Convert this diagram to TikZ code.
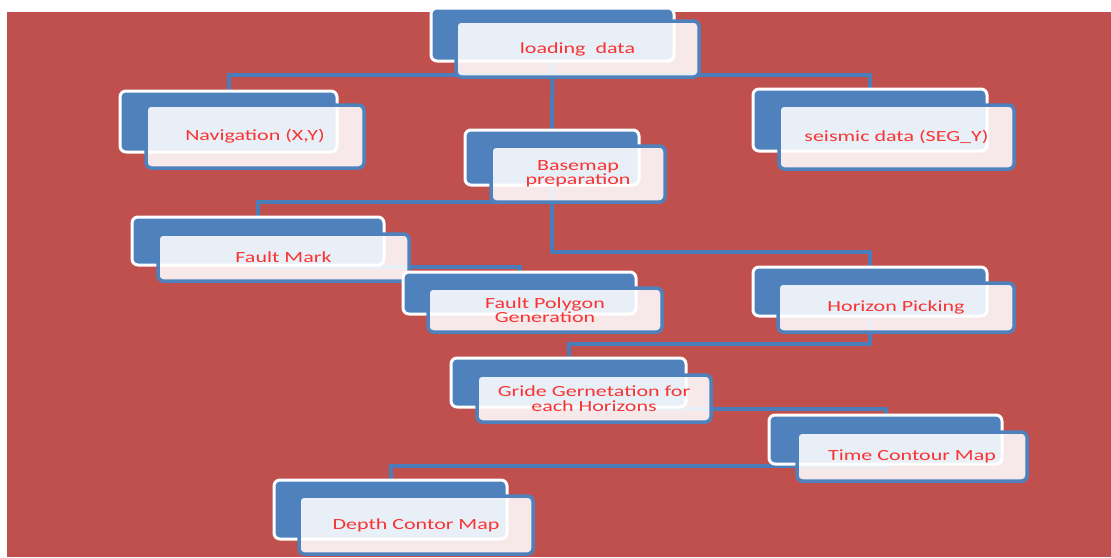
\documentclass[tikz,border=0pt]{standalone}
\usepackage{fontspec}
\newfontfamily\boxfont[FakeStretch=1.42]{Carlito}
\definecolor{canvasred}{HTML}{C0504D}
\definecolor{shapeblue}{HTML}{4F81BD}
\definecolor{linkblue}{HTML}{4A7DBA}
\definecolor{labelred}{HTML}{F83434}
\pgfdeclarelayer{canvas}
\pgfdeclarelayer{links}
\pgfsetlayers{canvas,links,main}
\begin{document}
\begin{tikzpicture}[x=1pt,y=-1pt,
  backbox/.style={draw=white, line width=3pt, fill=shapeblue, rounded corners=6pt,
    inner sep=0pt, outer sep=0pt},
  frontbox/.style={draw=shapeblue, line width=3.5pt, fill=white, fill opacity=0.88,
    text opacity=1, rounded corners=5pt, inner sep=0pt, outer sep=0pt,
    text=labelred, align=center, font=\boxfont\fontsize{15.5pt}{14.5pt}\selectfont},
  link/.style={draw=linkblue, line width=4pt}]

% canvas
\useasboundingbox (0,0) rectangle (1111,557);
\begin{pgfonlayer}{canvas}
  \fill[canvasred] (7,12) rectangle (1111,557);
\end{pgfonlayer}

% loading data
\node[backbox, minimum width=243pt, minimum height=53pt] (loadB) at (552.5,34.5) {};
\node[frontbox, minimum width=243pt, minimum height=56pt] (load) at (577.5,49) {loading\ \ data};

% first level
\node[backbox, minimum width=217pt, minimum height=61pt] (navB) at (228.5,121.5) {};
\node[frontbox, minimum width=218pt, minimum height=63pt] (nav) at (255,136.5) {Navigation (X,Y)};

\node[backbox, minimum width=234pt, minimum height=62pt] (seisB) at (870,120) {};
\node[frontbox, minimum width=235pt, minimum height=64pt] (seis) at (896.5,137) {seismic data (SEG\_Y)};

\node[backbox, minimum width=174pt, minimum height=55pt] (baseB) at (552,157.5) {};
\node[frontbox, minimum width=174pt, minimum height=56pt] (base) at (578,174) {Basemap\\preparation};

% basemap branch
\node[backbox, minimum width=252pt, minimum height=48pt] (fmB) at (258,241) {};
\node[frontbox, minimum width=251pt, minimum height=47pt] (fm) at (283.5,257.5) {Fault Mark};

\node[backbox, minimum width=233pt, minimum height=42pt] (polyB) at (519.5,293) {};
\node[frontbox, minimum width=234pt, minimum height=44pt] (poly) at (545,310) {Fault Polygon\\Generation};

\node[backbox, minimum width=234pt, minimum height=49pt] (horB) at (870,291.5) {};
\node[frontbox, minimum width=236pt, minimum height=49pt] (hor) at (896,307.5) {Horizon Picking};

% gridding and maps
\node[backbox, minimum width=235pt, minimum height=49pt] (grB) at (568.5,382.5) {};
\node[frontbox, minimum width=234pt, minimum height=47pt] (gr) at (594,398.5) {Gride Gernetation for\\each Horizons};

\node[backbox, minimum width=233pt, minimum height=49pt] (timeB) at (885.5,439.5) {};
\node[frontbox, minimum width=230pt, minimum height=49pt] (time) at (912,456.5) {Time Contour Map};

\node[backbox, minimum width=233pt, minimum height=59pt] (depB) at (390.5,509.5) {};
\node[frontbox, minimum width=234pt, minimum height=58pt] (dep) at (416,525) {Depth Contor Map};

% connectors, beneath the shapes
\begin{pgfonlayer}{links}
  \draw[link] (loadB.south) -- ++(0,14) -| (navB.north);
  \draw[link] (loadB.south) -- ++(0,14) -| (seisB.north);
  \draw[link] (loadB.south) -- (baseB.north);
  \draw[link] (baseB.south) -- ++(0,17) -| (fmB.north);
  \draw[link] (baseB.south) -- ++(0,67) -| (horB.north);
  \draw[link] (fmB.south) -- ++(0,1.5) -| (polyB.north);
  \draw[link] (horB.south) -- ++(0,28) -| (grB.north);
  \draw[link] (grB.south) -- ++(0,2) -| (timeB.north);
  \draw[link] (timeB.south) -- ++(0,2) -| (depB.north);
\end{pgfonlayer}
\end{tikzpicture}
\end{document}
